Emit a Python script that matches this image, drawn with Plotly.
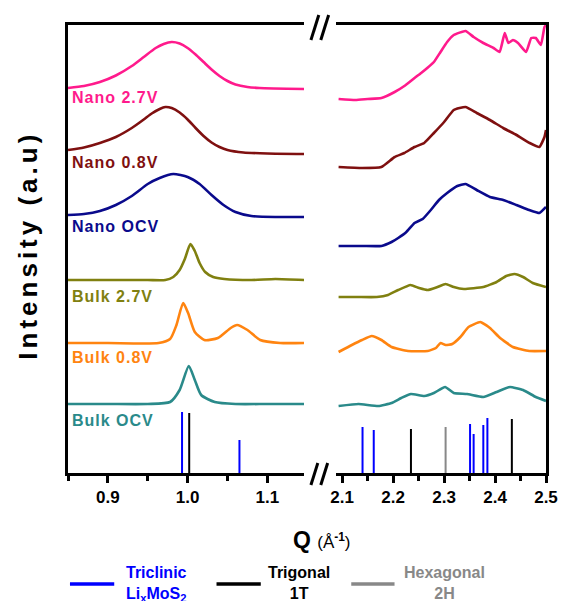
import plotly.graph_objects as go

# ---------------- data (intensity in stacked arbitrary units) ----------------
# Left window (Q 0.85-1.15)
q_n27_L = [0.85, 0.87, 0.89, 0.91, 0.93, 0.945, 0.96, 0.97, 0.98, 0.99, 1.0, 1.01, 1.02, 1.03, 1.04, 1.05, 1.06, 1.075, 1.09, 1.146]
i_n27_L = [385, 387, 391, 397.5, 407, 416, 425, 429, 431, 429.5, 425, 418.5, 411, 403.5, 397, 392, 388.5, 386, 385, 384]
q_n08_L = [0.85, 0.87, 0.89, 0.91, 0.93, 0.945, 0.955, 0.965, 0.972, 0.98, 0.99, 1.0, 1.01, 1.02, 1.03, 1.04, 1.05, 1.07, 1.1, 1.146]
i_n08_L = [323, 325.5, 330, 336, 345, 353.5, 359.5, 364, 366, 365, 360.5, 353.5, 345, 337, 330.5, 326, 323, 320.5, 319.5, 319]
q_nocv_L = [0.85, 0.87, 0.89, 0.91, 0.93, 0.95, 0.965, 0.982, 1.0, 1.015, 1.03, 1.045, 1.06, 1.08, 1.11, 1.146]
i_nocv_L = [258, 259, 262, 268, 277, 289, 295, 299, 296, 289, 278, 268, 261, 257, 256, 256]
q_b27_L = [0.85, 0.9, 0.95, 0.972, 0.982, 0.99, 0.9965, 1.0035, 1.009, 1.015, 1.022, 1.032, 1.046, 1.08, 1.11, 1.146]
i_b27_L = [193, 193, 193, 193, 196, 203, 214, 229, 222, 210, 201, 196, 194, 193, 194, 193]
q_b08_L = [0.85, 0.9, 0.9636, 0.978, 0.986, 0.9944, 1.0006, 1.009, 1.021, 1.038, 1.054, 1.062, 1.075, 1.091, 1.116, 1.146]
i_b08_L = [130, 130, 130, 134, 148, 170, 160, 141, 133, 135, 145, 148, 143, 133, 130, 130]
q_bocv_L = [0.85, 0.9, 0.95, 0.978, 0.99, 1.0015, 1.009, 1.017, 1.034, 1.06, 1.1, 1.146]
i_bocv_L = [69, 69, 69, 71, 83, 107, 93, 78, 71, 69, 69, 69]

# Right window (Q 2.1-2.5)
q_n27_R = [2.093, 2.126, 2.15, 2.177, 2.203, 2.222, 2.242, 2.255, 2.267, 2.28, 2.293, 2.306, 2.319, 2.342, 2.358,
           2.377, 2.397, 2.409, 2.419, 2.426, 2.435, 2.445, 2.461, 2.471, 2.48, 2.49, 2.497, 2.5]
i_n27_R = [374, 373, 374, 375, 381, 387, 395, 400, 405, 411, 421, 431, 438, 442, 436,
           430, 425, 421, 440, 430, 433, 430, 421, 435, 435, 428, 446, 448]
q_n08_R = [2.093, 2.139, 2.177, 2.203, 2.222, 2.242, 2.261, 2.28, 2.3, 2.319, 2.342, 2.364, 2.39, 2.416, 2.442, 2.468, 2.487, 2.497, 2.5]
i_n08_R = [306, 305, 306, 316, 320, 326, 330, 340, 351, 363, 366, 360, 353, 345, 338, 330, 326, 336, 343]
q_nocv_R = [2.093, 2.14, 2.177, 2.197, 2.21, 2.226, 2.242, 2.258, 2.274, 2.29, 2.306, 2.326, 2.342, 2.364, 2.39, 2.416, 2.442, 2.467, 2.487, 2.5]
i_nocv_R = [227, 227, 227, 231, 235, 241, 250, 254, 263, 273, 280, 287, 289, 283, 276, 273, 268, 263, 260, 266]
q_b27_R = [2.093, 2.13, 2.168, 2.19, 2.21, 2.234, 2.251, 2.268, 2.287, 2.303, 2.319, 2.339, 2.377, 2.403, 2.422, 2.438, 2.455, 2.474, 2.5]
i_b27_R = [176, 176, 176, 178, 183, 188, 185, 183, 186, 189, 186, 184, 186, 191, 197, 199, 196, 190, 186]
q_b08_R = [2.093, 2.119, 2.139, 2.158, 2.177, 2.197, 2.229, 2.268, 2.284, 2.293, 2.303, 2.316, 2.332, 2.348, 2.371, 2.39, 2.41, 2.435, 2.467, 2.5]
i_b08_R = [121, 128, 133, 137, 133, 126, 122, 122, 125, 130, 128, 129, 136, 146, 151, 145, 135, 126, 122, 122]
q_bocv_R = [2.093, 2.132, 2.171, 2.197, 2.216, 2.235, 2.261, 2.28, 2.302, 2.319, 2.345, 2.377, 2.403, 2.429, 2.455, 2.48, 2.5]
i_bocv_R = [67, 69, 67, 70, 75, 79, 77, 80, 86, 80, 79, 76, 81, 86, 83, 76, 72]

# Reference stick patterns
tri_q_L = [0.993, 1.065]
tri_h_L = [61, 33]
trig_q_L = [1.002]
trig_h_L = [60]
tri_q_R = [2.140, 2.162, 2.351, 2.358, 2.377, 2.385]
tri_h_R = [46, 43, 49, 39, 48, 55]
trig_q_R = [2.235, 2.433]
trig_h_R = [44, 54]
hex_q_R = [2.303]
hex_h_R = [46]

series_names = ["Nano 2.7V", "Nano 0.8V", "Nano OCV", "Bulk 2.7V", "Bulk 0.8V", "Bulk OCV"]
series_colors = ["#FF1A8C", "#7F1010", "#0A0A8C", "#808010", "#FF8410", "#2A8A8A"]
label_y_px = [97, 162, 226, 296, 357, 420]

left_data = [(q_n27_L, i_n27_L), (q_n08_L, i_n08_L), (q_nocv_L, i_nocv_L),
             (q_b27_L, i_b27_L), (q_b08_L, i_b08_L), (q_bocv_L, i_bocv_L)]
right_data = [(q_n27_R, i_n27_R), (q_n08_R, i_n08_R), (q_nocv_R, i_nocv_R),
              (q_b27_R, i_b27_R), (q_b08_R, i_b08_R), (q_bocv_R, i_bocv_R)]

# ---------------- geometry helpers ----------------
W, H = 570, 601
ML, MR, MT, MB = 68, 16, 25, 128
PW, PH = W - ML - MR, H - MT - MB


def px(x):
    return (x - ML) / PW


def py(y):
    return (H - MB - y) / PH


FONT = "Liberation Sans, Arial, sans-serif"

fig = go.Figure()

for (ql, il), (qr, ir), name, col in zip(left_data, right_data, series_names, series_colors):
    fig.add_trace(go.Scatter(x=ql, y=il, mode="lines", line=dict(color=col, width=2.6, shape="spline", smoothing=0.6),
                             xaxis="x", yaxis="y", showlegend=False, name=name))
    fig.add_trace(go.Scatter(x=qr, y=ir, mode="lines", line=dict(color=col, width=2.6, shape="spline", smoothing=0.4),
                             xaxis="x2", yaxis="y2", showlegend=False, name=name))


def sticks(qs, hs):
    xs, ys = [], []
    for q, h in zip(qs, hs):
        xs += [q, q, None]
        ys += [0, h, None]
    return xs, ys


for qs, hs, col, ax, ay in [(tri_q_L, tri_h_L, "#0000FF", "x", "y"), (trig_q_L, trig_h_L, "#000000", "x", "y"),
                            (tri_q_R, tri_h_R, "#0000FF", "x2", "y2"), (trig_q_R, trig_h_R, "#000000", "x2", "y2"),
                            (hex_q_R, hex_h_R, "#888888", "x2", "y2")]:
    xs, ys = sticks(qs, hs)
    fig.add_trace(go.Scatter(x=xs, y=ys, mode="lines", line=dict(color=col, width=2),
                             xaxis=ax, yaxis=ay, showlegend=False, hoverinfo="skip"))

tickfont = dict(family=FONT, size=17, color="black", weight="bold")

fig.update_layout(
    width=W, height=H,
    margin=dict(l=ML, r=MR, t=MT, b=MB),
    paper_bgcolor="white", plot_bgcolor="white",
    showlegend=False,
    xaxis=dict(domain=[0, px(308)], range=[0.85, 1.146], showline=True, mirror=True, linecolor="black", linewidth=2.6,
               ticks="outside", ticklen=7, tickwidth=2.5, tickcolor="black", tick0=0.9, dtick=0.1,
               tickformat=".1f", tickfont=tickfont, showgrid=False, zeroline=False, anchor="y",
               minor=dict(ticks="outside", ticklen=5, tickwidth=2.5, tickcolor="black", dtick=0.05, tick0=0.85, showgrid=False)),
    xaxis2=dict(domain=[px(340), 1], range=[2.087, 2.5], showline=True, mirror=True, linecolor="black", linewidth=2.6,
                ticks="outside", ticklen=7, tickwidth=2.5, tickcolor="black", tick0=2.1, dtick=0.1,
                tickformat=".1f", tickfont=tickfont, showgrid=False, zeroline=False, anchor="y2",
                minor=dict(ticks="outside", ticklen=5, tickwidth=2.5, tickcolor="black", dtick=0.05, tick0=2.1, showgrid=False)),
    yaxis=dict(domain=[0, 1], range=[0, 448], showline=True, linecolor="black", linewidth=2.6, ticks="",
               showticklabels=False, showgrid=False, zeroline=False, anchor="x"),
    yaxis2=dict(domain=[0, 1], range=[0, 448], showline=True, linecolor="black", linewidth=2.6, ticks="",
                showticklabels=False, showgrid=False, zeroline=False, anchor="x2", side="right"),
)

# series labels
for name, col, ly in zip(series_names, series_colors, label_y_px):
    fig.add_annotation(x=px(70), y=py(ly), xref="paper", yref="paper", xanchor="left", yanchor="middle",
                       text="<b><span style='letter-spacing:1px'>%s</span></b>" % name, showarrow=False,
                       font=dict(family=FONT, size=16, color=col))

# axis titles
fig.add_annotation(x=px(27), y=py(245), xref="paper", yref="paper", textangle=-90, showarrow=False,
                   xanchor="center", yanchor="middle",
                   text="<b><span style='letter-spacing:4px'>Intensity (a.u)</span></b>",
                   font=dict(family=FONT, size=26, color="black"))
fig.add_annotation(x=px(326), y=py(540), xref="paper", yref="paper", showarrow=False,
                   xanchor="center", yanchor="middle",
                   text="<b>Q</b> <span style='font-size:17px'>(Å<sup><b>-1</b></sup>)</span>",
                   font=dict(family=FONT, size=23, color="black"))

# axis break marks
shapes = []
for (x0, y0, x1, y1) in [(315, 40, 323, 15), (325, 40, 333, 15), (315, 485, 322, 463), (325, 485, 332, 463)]:
    shapes.append(dict(type="line", xref="paper", yref="paper", x0=px(x0), y0=py(y0), x1=px(x1), y1=py(y1),
                       line=dict(color="black", width=3)))

# custom legend
legend_items = [("Triclinic<br>Li<sub>x</sub>MoS<sub>2</sub>", "#0000FF", "#0000FF", 70, 115, 158),
                ("Trigonal<br>1T", "#000000", "#000000", 219, 264, 303),
                ("Hexagonal<br>2H", "#888888", "#888888", 356, 400, 451)]
for text, lcol, tcol, x0, x1, xc in legend_items:
    shapes.append(dict(type="line", xref="paper", yref="paper", x0=px(x0), x1=px(x1), y0=py(584), y1=py(584),
                       line=dict(color=lcol, width=3.5)))
    fig.add_annotation(x=px(xc), y=py(562), xref="paper", yref="paper", showarrow=False,
                       xanchor="center", yanchor="top", align="center",
                       text="<b>%s</b>" % text, font=dict(family=FONT, size=16, color=tcol))

fig.update_layout(shapes=shapes)
fig.write_html("out.html")
